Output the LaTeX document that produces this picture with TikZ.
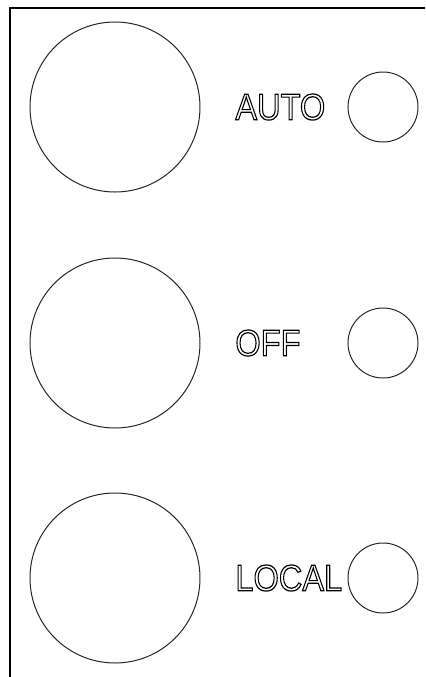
\documentclass[tikz,border=0pt]{standalone}
\usepackage{graphicx}
\usepackage{fontspec}
\setmainfont{Liberation Sans}
\usetikzlibrary{positioning}
% hollow letters: stroke the glyph outlines only
\newcommand{\hollow}[1]{\scalebox{0.88}[1]{\special{pdf:literal direct 1 Tr 0.6 w}#1\special{pdf:literal direct 0 Tr}}}
\tikzset{
  knob/.style={circle,draw=black!85,line width=0.5pt,minimum size=85pt,inner sep=0pt},
  lamp/.style={circle,draw=black!85,line width=0.5pt,minimum size=35pt,inner sep=0pt},
  modelabel/.style={anchor=west,inner sep=0pt,font=\fontsize{18.5}{18.5}\selectfont}
}
\begin{document}
\begin{tikzpicture}[x=0.5pt,y=-0.5pt]
\useasboundingbox (0,0) rectangle (425,677);
\begin{scope}
\clip (0,0) rectangle (425,677);
\draw[line width=1pt] (10,700) -- (10,8) -- (440,8);
\end{scope}
\foreach \name/\mode/\y in {auto/AUTO/107,off/OFF/343,local/LOCAL/578} {
\node[knob] (knob-\name) at (115,\y) {};
\node[lamp] (lamp-\name) at (383,\y) {};
\node[modelabel] (label-\name) at (235,\y) {\hollow{\mode}};
}
\end{tikzpicture}
\end{document}
